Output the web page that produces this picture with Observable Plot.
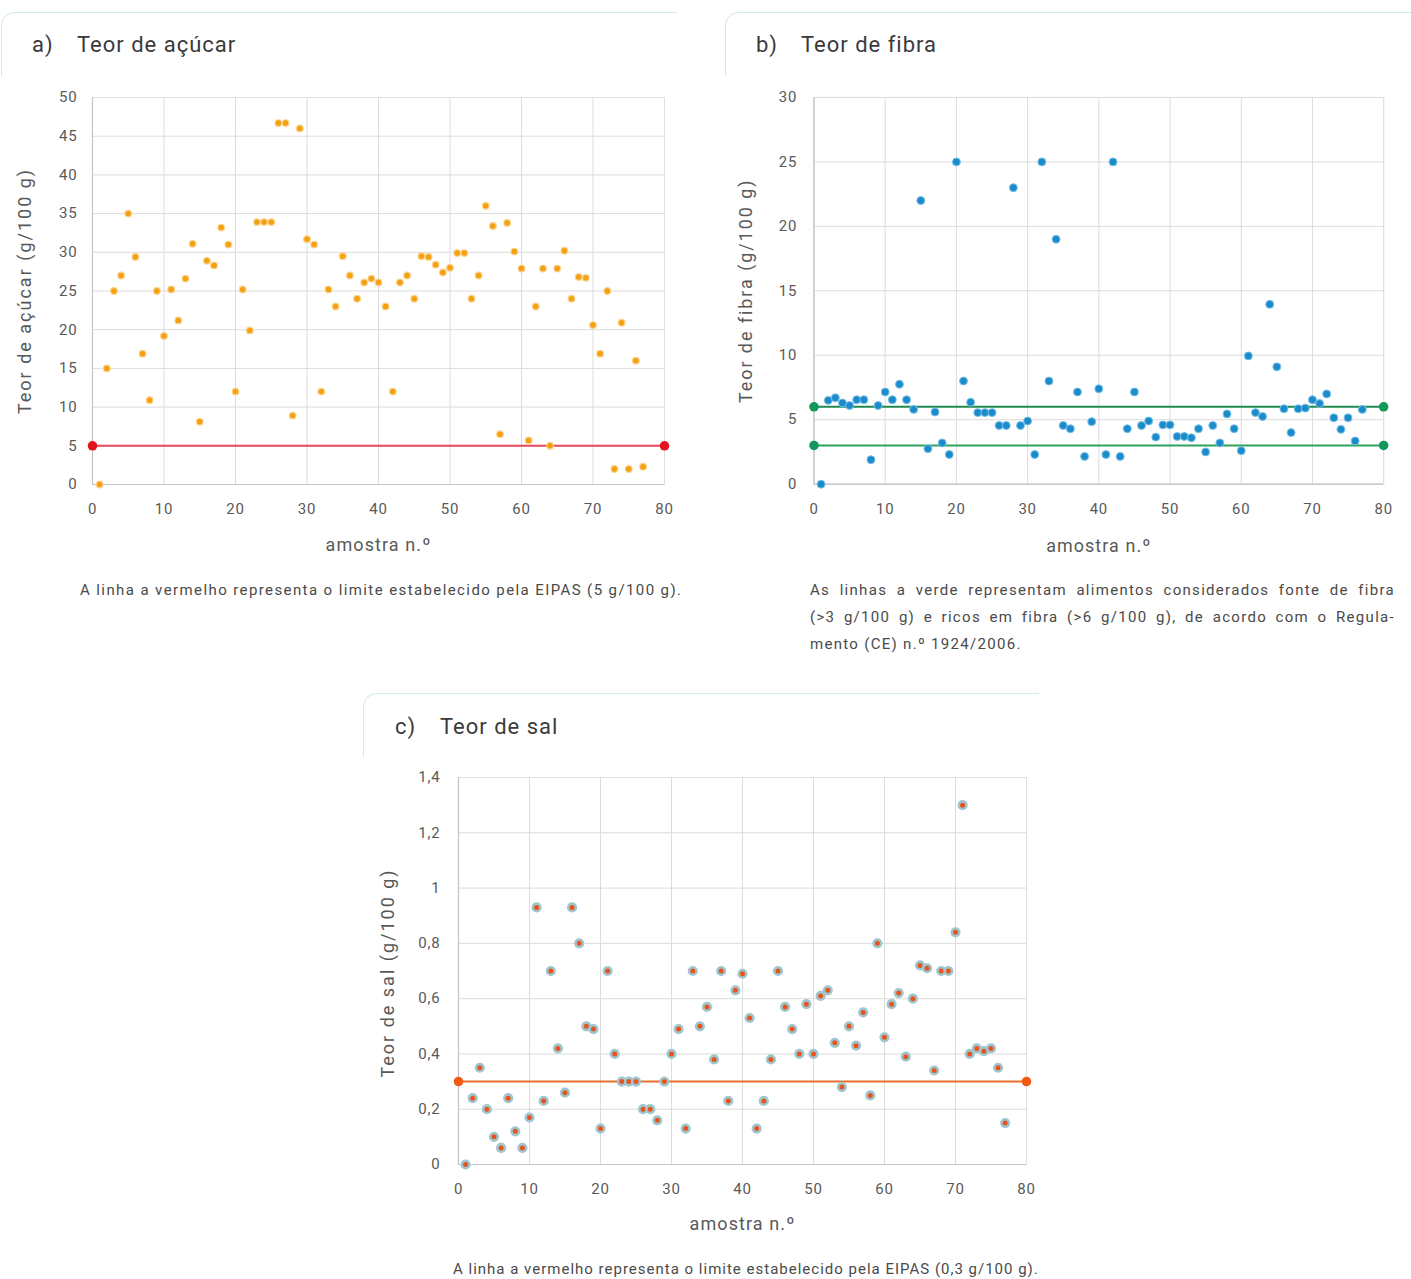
<!DOCTYPE html>
<html><head><meta charset="utf-8">
<script src="https://cdn.jsdelivr.net/npm/d3@7"></script>
<script src="https://cdn.jsdelivr.net/npm/@observablehq/plot@0.6"></script>
<style>
body{margin:0;background:#fff;}
#page{position:relative;width:1411px;height:1279px;font-family:Roboto,"Noto Sans",sans-serif;color:#404040;overflow:hidden;background:#fff}
.hdr{position:absolute;border-top:1.5px solid #d3ebe8;border-left:1.5px solid #d3ebe8;border-top-left-radius:14px;}
.title{position:absolute;font-size:22px;line-height:26px;color:#3a3a3a;letter-spacing:1px;white-space:nowrap}
.chart{position:absolute}
.cap{position:absolute;font-size:15px;color:#4a4a4a;letter-spacing:1.3px;line-height:27px;white-space:nowrap}
.just{text-align:justify;text-align-last:justify;white-space:normal}
.chart svg g[aria-label="text"] text{letter-spacing:1.1px}
.chart svg g[aria-label="text"] text[transform*="rotate"]{letter-spacing:2px}
.chart svg g[aria-label$="tick label"] text{letter-spacing:0.8px}
</style></head>
<body><div id="page">
  <div class="hdr" style="left:1px;top:12px;width:675px;height:63px"></div>
  <div class="title" style="left:32px;top:32px">a)</div>
  <div class="title" style="left:77px;top:32px">Teor de açúcar</div>
  <div class="hdr" style="left:725px;top:12px;width:690px;height:63px"></div>
  <div class="title" style="left:756px;top:32px">b)</div>
  <div class="title" style="left:801px;top:32px">Teor de fibra</div>
  <div class="hdr" style="left:363px;top:693px;width:675px;height:63px"></div>
  <div class="title" style="left:395px;top:714px">c)</div>
  <div class="title" style="left:440px;top:714px">Teor de sal</div>
  <div class="chart" id="ca" style="left:0px;top:85px"></div>
  <div class="chart" id="cb" style="left:725px;top:85px"></div>
  <div class="chart" id="cc" style="left:363px;top:765px"></div>
  <div class="cap" style="left:80px;top:577px;letter-spacing:1.4px">A linha a vermelho representa o limite estabelecido pela EIPAS (5 g/100 g).</div>
  <div class="cap" style="left:810px;top:577px;width:585px">
    <div class="just">As linhas a verde representam alimentos considerados fonte de fibra</div>
    <div class="just">(&gt;3 g/100 g) e ricos em fibra (&gt;6 g/100 g), de acordo com o Regula-</div>
    <div>mento (CE) n.º 1924/2006.</div>
  </div>
  <div class="cap" style="left:453px;top:1256px;letter-spacing:1px">A linha a vermelho representa o limite estabelecido pela EIPAS (0,3 g/100 g).</div>
</div>
<script>
const samples = d3.range(1, 78);
const sugar = [0,15,25,27,35,29.4,16.9,10.9,25,19.2,25.2,21.2,26.6,31.1,8.1,28.9,28.3,33.2,31,12,25.2,19.9,33.9,33.9,33.9,46.7,46.7,8.9,46,31.7,31,12,25.2,23,29.5,27,24,26.1,26.6,26.1,23,12,26.1,27,24,29.5,29.4,28.4,27.4,28,29.9,29.9,24,27,36,33.4,6.5,33.8,30.1,27.9,5.7,23,27.9,5,27.9,30.2,24,26.8,26.7,20.6,16.9,25,2,20.9,2,16,2.3];
const fibre = [0,6.5,6.7,6.3,6.1,6.55,6.55,1.9,6.1,7.15,6.55,7.75,6.55,5.8,22,2.75,5.6,3.2,2.3,25,8,6.35,5.55,5.55,5.55,4.55,4.55,23,4.55,4.9,2.3,25,8,19,4.55,4.3,7.15,2.15,4.85,7.4,2.3,25,2.15,4.3,7.15,4.55,4.9,3.65,4.6,4.6,3.7,3.7,3.6,4.3,2.5,4.55,3.2,5.45,4.3,2.6,9.95,5.55,5.25,13.95,9.1,5.85,4,5.85,5.9,6.55,6.25,7,5.15,4.25,5.15,3.35,5.8];
const salt = [0,0.24,0.35,0.2,0.1,0.06,0.24,0.12,0.06,0.17,0.93,0.23,0.7,0.42,0.26,0.93,0.8,0.5,0.49,0.13,0.7,0.4,0.3,0.3,0.3,0.2,0.2,0.16,0.3,0.4,0.49,0.13,0.7,0.5,0.57,0.38,0.7,0.23,0.63,0.69,0.53,0.13,0.23,0.38,0.7,0.57,0.49,0.4,0.58,0.4,0.61,0.63,0.44,0.28,0.5,0.43,0.55,0.25,0.8,0.46,0.58,0.62,0.39,0.6,0.72,0.71,0.34,0.7,0.7,0.84,1.3,0.4,0.42,0.41,0.42,0.35,0.15];
const xTicks = [0,10,20,30,40,50,60,70,80];
const sugarTicks = [0,5,10,15,20,25,30,35,40,45,50];
const fibreTicks = [0,5,10,15,20,25,30];
const saltTicks = [0,0.2,0.4,0.6,0.8,1,1.2,1.4];
const sugarLimits = [5];
const fibreLimits = [6, 3];
const saltLimits = [0.3];
const xLabel = "amostra n.º";

function chart(cfg) {
  const xd = [0, 80];
  const marks = [
    Plot.gridX(xTicks, {stroke:"#dcdcdc", strokeOpacity:1}),
    Plot.gridY(cfg.yTicks, {stroke:"#dcdcdc", strokeOpacity:1}),
    Plot.frame({stroke:"#e0e0e0"}),
    Plot.ruleX([0], {stroke:"#c4c4c4", strokeWidth:1.2}),
    Plot.ruleY([0], {stroke:"#c4c4c4", strokeWidth:1.2}),
    Plot.axisX(xTicks, {tickSize:0, tickPadding:19, fontSize:15, label:null}),
    Plot.axisY(cfg.yTicks, {tickSize:0, tickPadding:cfg.yPad, fontSize:15, label:null, tickFormat:cfg.fmt}),
    Plot.text([xLabel], {frameAnchor:"bottom", textAnchor:"middle", dy:cfg.xdy, fontSize:18}),
    Plot.text([cfg.yLabel], {frameAnchor:"left", textAnchor:"middle", dx:cfg.ydx, dy:cfg.ydy, rotate:-90, fontSize:18})
  ];
  cfg.limits.forEach((v, k) => {
    marks.push(Plot.ruleY([v], {x1:xd[0], x2:xd[1], stroke:cfg.lineColors[k], strokeWidth:2}));
  });
  marks.push(Plot.dot(samples, {x:d=>d, y:(d,i)=>cfg.values[i], r:cfg.r, fill:cfg.fill, stroke:cfg.stroke, strokeWidth:cfg.sw}));
  cfg.limits.forEach((v, k) => {
    marks.push(Plot.dot(xd, {x:d=>d, y:()=>v, r:4.8, fill:cfg.endColors[k]}));
  });
  return Plot.plot({
    width: 690, height: 480,
    marginLeft: cfg.ml, marginRight: cfg.mr, marginTop: 12, marginBottom: cfg.mb,
    x: {domain: xd},
    y: {domain: cfg.yDomain},
    style: {fontFamily: "Roboto, 'Noto Sans', sans-serif", color: "#595959", background: "transparent", overflow: "visible"},
    marks
  });
}

document.getElementById("ca").append(chart({
  values: sugar, yTicks: sugarTicks, yDomain:[0,50], fmt: d=>String(d),
  yLabel: "Teor de açúcar (g/100 g)", ydx: -67, ydy: 0, yPad: 15, xdy: 66,
  ml: 92, mr: 26, mb: 81,
  limits: sugarLimits, lineColors:["#e8475c"], endColors:["#e3131f"],
  r: 3.3, fill:"#f4a00f", stroke:"#fbd08a", sw:1.2
}));
document.getElementById("cb").append(chart({
  values: fibre, yTicks: fibreTicks, yDomain:[0,30], fmt: d=>String(d),
  yLabel: "Teor de fibra (g/100 g)", ydx: -68, ydy: 0, yPad: 17, xdy: 68,
  ml: 89, mr: 28, mb: 79,
  limits: fibreLimits, lineColors:["#1f8a4f","#2ea35e"], endColors:["#12985a","#12985a"],
  r: 4, fill:"#1b8ccb", stroke:"#7cc0e6", sw:1
}));
document.getElementById("cc").append(chart({
  values: salt, yTicks: saltTicks, yDomain:[0,1.4], fmt: d=>String(+d.toFixed(1)).replace(".", ","),
  yLabel: "Teor de sal (g/100 g)", ydx: -70, ydy: 2, yPad: 18, xdy: 65,
  ml: 95, mr: 27, mb: 81,
  limits: saltLimits, lineColors:["#e8702f"], endColors:["#f05a12"],
  r: 3.8, fill:"#e8541e", stroke:"#9fc6ce", sw:2.6
}));
</script>
</body></html>
